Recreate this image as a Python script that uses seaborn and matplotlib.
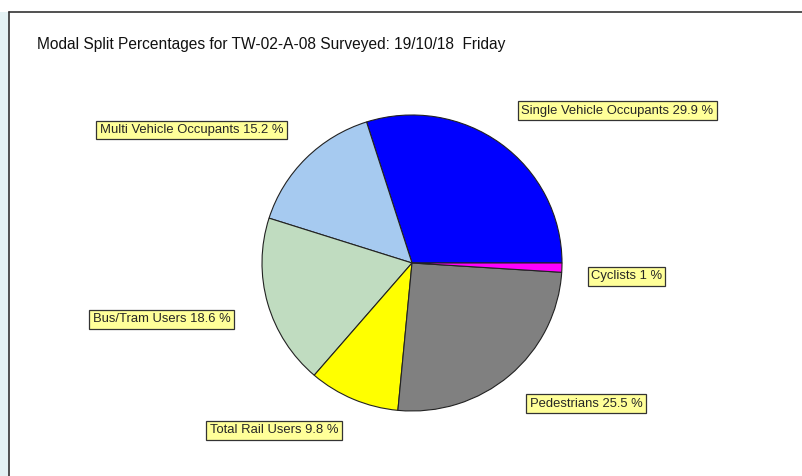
"""Modal split pie chart for survey site TW-02-A-08."""
import matplotlib

matplotlib.use("Agg")
import matplotlib.pyplot as plt
import seaborn as sns
from matplotlib.lines import Line2D
from matplotlib.patches import Rectangle

TITLE = "Modal Split Percentages for TW-02-A-08 Surveyed: 19/10/18  Friday"

modes = [
    "Single Vehicle Occupants",
    "Multi Vehicle Occupants",
    "Bus/Tram Users",
    "Total Rail Users",
    "Pedestrians",
    "Cyclists",
]
shares = [29.9, 15.2, 18.6, 9.8, 25.5, 1]
share_text = ["29.9", "15.2", "18.6", "9.8", "25.5", "1"]
colours = ["#0000FF", "#A6CAF0", "#C0DCC0", "#FFFF00", "#808080", "#FF00FF"]

# label box centres in pie units (radius = 1)
label_pos = [
    (1.37, 1.03),
    (-1.47, 0.90),
    (-1.67, -0.38),
    (-0.92, -1.13),
    (1.16, -0.95),
    (1.43, -0.09),
]

W, H = 803, 476


def main():
    sns.set_style("white")
    plt.rcParams["font.family"] = ["Liberation Sans", "DejaVu Sans"]

    fig = plt.figure(figsize=(W / 100, H / 100), dpi=100)
    fig.patch.set_facecolor("white")

    # window frame
    fig.add_artist(Rectangle((0, 0), 9 / W, 1 - 12 / H, transform=fig.transFigure,
                             facecolor="#E4F2F4", edgecolor="none"))
    fig.add_artist(Line2D([9.5 / W, 9.5 / W], [0, 1 - 12 / H], transform=fig.transFigure,
                          color="#333333", lw=1.2))
    fig.add_artist(Line2D([9.5 / W, 1], [1 - 12 / H, 1 - 12 / H], transform=fig.transFigure,
                          color="#333333", lw=1.2))

    fig.text(37 / W, 1 - 44 / H, TITLE, fontsize=11.2, va="center", ha="left",
             color="#111111")

    cx, cy, rx, ry = 412, 263, 150, 148
    ax = fig.add_axes([(cx - rx) / W, 1 - (cy + ry) / H, 2 * rx / W, 2 * ry / H])
    ax.pie(shares, colors=colours, startangle=0, counterclock=True,
           wedgeprops=dict(edgecolor="#222222", linewidth=0.8))
    ax.set_aspect("auto")
    ax.set_xlim(-1, 1)
    ax.set_ylim(-1, 1)
    ax.axis("off")

    for name, txt, (lx, ly) in zip(modes, share_text, label_pos):
        ax.text(lx, ly, f"{name} {txt} %", ha="center", va="center", fontsize=9.4,
                clip_on=False,
                bbox=dict(boxstyle="square,pad=0.25", facecolor="#FFFF99",
                          edgecolor="#333333", linewidth=0.9))

    fig.savefig("out.png", dpi=100)
    plt.close(fig)


if __name__ == "__main__":
    main()
